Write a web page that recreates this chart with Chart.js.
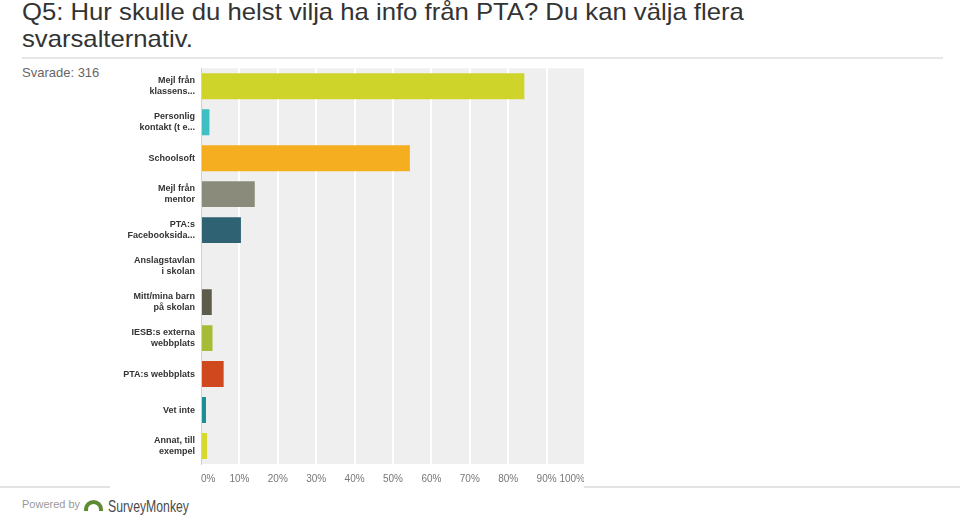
<!DOCTYPE html>
<html>
<head>
<meta charset="utf-8">
<script src="https://cdn.jsdelivr.net/npm/chart.js@4/dist/chart.umd.min.js"></script>
<style>
  html, body { margin:0; padding:0; background:#fff; width:960px; height:515px; overflow:hidden; font-family:"Liberation Sans", Arial, sans-serif; }
  #title { position:absolute; left:22px; top:-1px; font-size:24px; line-height:26.5px; color:#333; white-space:nowrap; transform:scaleX(1.07); transform-origin:0 0; }
  #rule { position:absolute; left:22px; top:57px; width:921px; height:2px; background:#e6e6e6; }
  #answered { position:absolute; left:22px; top:65px; font-size:13px; color:#666; }
  #botline { position:absolute; left:0; top:486px; width:960px; height:2px; background:#e3e3e3; }
  #wrap { position:absolute; left:110px; top:60px; width:474px; height:429px; background:#fff; overflow:hidden; }
  #wrap canvas { position:absolute; left:0; top:-9px; }
  #powered { position:absolute; left:22px; top:498px; font-size:11px; color:#999; }
  #logo { position:absolute; left:108px; top:497px; font-size:17px; color:#4a4a4a; transform:scaleX(0.72); transform-origin:0 0; }
  #icon { position:absolute; left:84px; top:500px; width:19px; height:11px; border:4px solid #5f8a34; border-bottom:none; border-radius:12px 12px 0 0; box-sizing:border-box; }
</style>
</head>
<body>
<div id="title">Q5: Hur skulle du helst vilja ha info från PTA? Du kan välja flera<br>svarsalternativ.</div>
<div id="rule"></div>
<div id="answered">Svarade: 316</div>
<div id="botline"></div>
<div id="wrap"><canvas id="c" width="484" height="438"></canvas></div>
<div id="powered">Powered by</div>
<div id="icon"></div>
<div id="logo">SurveyMonkey</div>
<script>
const categories = [
  ["Mejl från", "klassens..."],
  ["Personlig", "kontakt (t e..."],
  "Schoolsoft",
  ["Mejl från", "mentor"],
  ["PTA:s", "Facebooksida..."],
  ["Anslagstavlan", "i skolan"],
  ["Mitt/mina barn", "på skolan"],
  ["IESB:s externa", "webbplats"],
  "PTA:s webbplats",
  "Vet inte",
  ["Annat, till", "exempel"]
];
const percentages = [84.2, 2.2, 54.4, 14.0, 10.4, 0, 2.8, 3.0, 5.9, 1.3, 1.6];
const barColors = ["#cfd42b", "#3ebfc4", "#f5ae1f", "#8b8b7b", "#2f6272", "#d9d9cf", "#5d5c4b", "#a5bd36", "#d0481d", "#1a9094", "#d5d931"];
const xTicks = ["0%", "10%", "20%", "30%", "40%", "50%", "60%", "70%", "80%", "90%", "100%"];

const plotBg = {
  id: 'plotBg',
  beforeDraw(chart) {
    const {ctx, chartArea: a} = chart;
    ctx.save();
    ctx.fillStyle = '#efefef';
    ctx.fillRect(a.left, a.top, a.right - a.left, a.bottom - a.top);
    ctx.restore();
  }
};

new Chart(document.getElementById('c'), {
  type: 'bar',
  data: {
    labels: categories,
    datasets: [{
      data: percentages,
      backgroundColor: barColors,
      borderWidth: 0,
      barPercentage: 0.8,
      categoryPercentage: 0.9
    }]
  },
  options: {
    indexAxis: 'y',
    responsive: false,
    animation: false,
    devicePixelRatio: 1,
    layout: { padding: { top: 4, right: 4, left: 0, bottom: 0 } },
    plugins: { legend: { display: false }, tooltip: { enabled: false } },
    scales: {
      x: {
        min: 0, max: 100,
        afterFit(axis) { axis.height = 25; },
        grid: { color: '#ffffff', lineWidth: 2, drawTicks: false },
        border: { display: false },
        ticks: {
          stepSize: 10,
          align: 'inner',
          padding: 9,
          color: '#777',
          font: { family: 'Liberation Sans, Arial', size: 10 },
          callback: (v, i) => xTicks[i]
        }
      },
      y: {
        afterFit(axis) { axis.width = 91; },
        grid: { display: false, drawTicks: false },
        border: { display: true, color: '#d0d0d0', width: 1 },
        ticks: {
          padding: 6,
          color: '#333',
          font: { family: 'Liberation Sans, Arial', size: 9, weight: 'bold', lineHeight: 1.25 }
        }
      }
    }
  },
  plugins: [plotBg]
});
</script>
</body>
</html>
